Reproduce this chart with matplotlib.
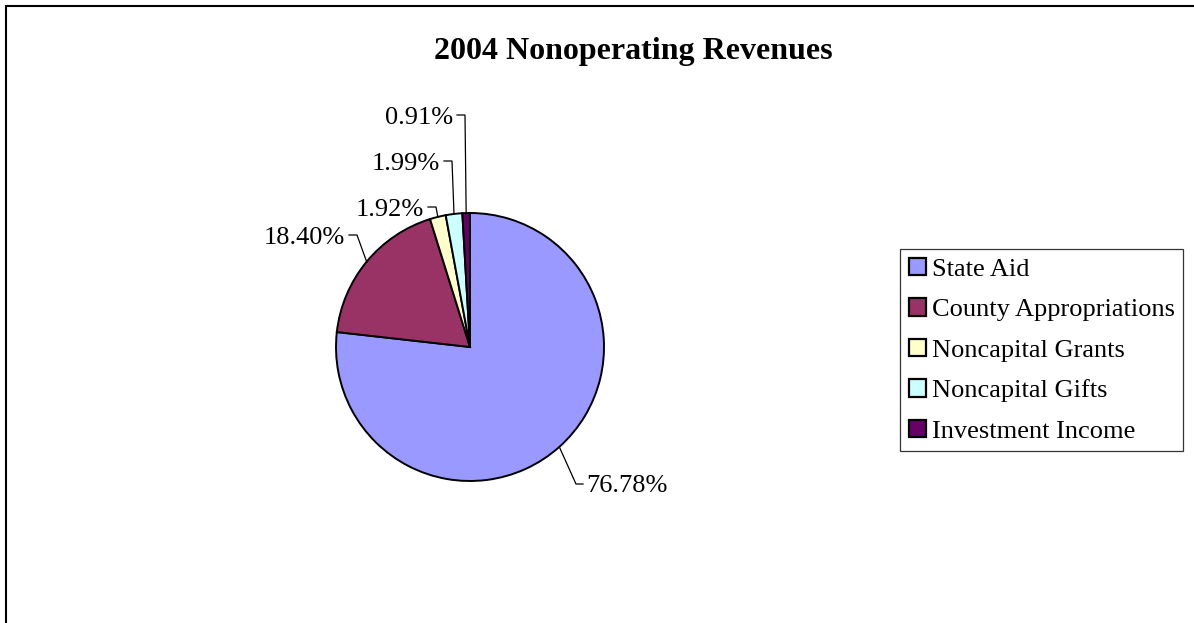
import numpy as np
import matplotlib
matplotlib.use("Agg")
import matplotlib.pyplot as plt
from matplotlib.patches import Rectangle

plt.rcParams['font.family'] = ['Liberation Serif', 'DejaVu Serif']

# Revenue shares (percent)
categories = ["State Aid", "County Appropriations", "Noncapital Grants",
              "Noncapital Gifts", "Investment Income"]
shares = [76.78, 18.40, 1.92, 1.99, 0.91]
colors = ["#9999FF", "#993366", "#FFFFCC", "#CCFFFF", "#660066"]
title = "2004 Nonoperating Revenues"

W, H = 1194, 623
fig = plt.figure(figsize=(W / 100, H / 100), dpi=100)
fig.patch.set_facecolor("white")

# axes covering the whole canvas, one data unit per pixel (y upwards)
ax = fig.add_axes([0, 0, 1, 1])
cx, cy, r = 470, H - 347, 134

wedges, _ = ax.pie(shares, colors=colors, startangle=90, counterclock=False,
                   center=(cx, cy), radius=r,
                   wedgeprops=dict(edgecolor="black", linewidth=1.4))
ax.set_xlim(0, W)
ax.set_ylim(0, H)
ax.set_aspect("equal")
ax.axis("off")

# leader lines: elbow offsets from the centre (pixels) and label side
elbows = [(106, -137, "right"), (-113, 112, "left"), (-34, 140, "left"),
          (-18, 186, "left"), (-5, 232, "left")]
for w, val, (ex, ey, side) in zip(wedges, shares, elbows):
    ang = np.deg2rad((w.theta1 + w.theta2) / 2)
    px, py = cx + r * np.cos(ang), cy + r * np.sin(ang)
    exx, eyy = cx + ex, cy + ey
    tick = 7 if side == "right" else -8
    ax.plot([px, exx, exx + tick], [py, eyy, eyy], color="black", lw=0.9,
            solid_joinstyle="miter")
    tx = exx + tick + (3 if side == "right" else -4)
    ax.text(tx, eyy, f"{val:.2f}%", fontsize=19,
            ha="left" if side == "right" else "right", va="center_baseline")

fig.text(633 / W, 1 - 52 / H, title, fontsize=23, fontweight="bold",
         ha="center", va="center")

leg = ax.legend(wedges, categories, loc="upper left",
                bbox_to_anchor=(900 / W, 1 - 249 / H),
                bbox_transform=fig.transFigure, fontsize=19,
                frameon=True, fancybox=False, edgecolor="black",
                handlelength=0.65, handleheight=0.65, handletextpad=0.22,
                labelspacing=0.66, borderpad=0.33, borderaxespad=0)
leg.get_frame().set_linewidth(0.9)
for h in leg.legend_handles:
    h.set_linewidth(1.6)

# outer chart border (runs past the right and bottom edges)
fig.patches.append(Rectangle((5.5 / W, -0.1), 1.2, 1 - 6.5 / H + 0.1,
                             transform=fig.transFigure, fill=False,
                             edgecolor="black", linewidth=1.5))

fig.savefig("out.png", dpi=100, facecolor="white")
